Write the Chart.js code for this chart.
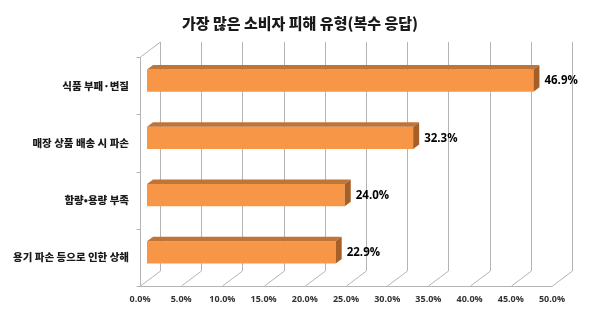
<!DOCTYPE html>
<html>
<head>
<meta charset="utf-8">
<script src="https://cdn.jsdelivr.net/npm/chart.js@4"></script>
<style>
  html, body { margin: 0; padding: 0; background: #fff; }
</style>
</head>
<body>
<canvas id="myChart" width="600" height="311"></canvas>
<script>
const categories = ['식품 부패·변질', '매장 상품 배송 시 파손', '함량•용량 부족', '용기 파손 등으로 인한 상해'];
const values = [46.9, 32.3, 24.0, 22.9];
const tickLabels = ['0.0%', '5.0%', '10.0%', '15.0%', '20.0%', '25.0%', '30.0%', '35.0%', '40.0%', '45.0%', '50.0%'];
const titleText = '가장 많은 소비자 피해 유형(복수 응답)';

// 3d look: front plane / back plane offsets from the bar plane
const front = { x: -7, y: 5 };
const back = { x: 13, y: -10 };
const barDepth = { x: 6, y: -4.5 };
const gridColor = '#b4b4b4';

const box3d = {
  id: 'box3d',
  beforeDatasetsDraw(chart) {
    const c = chart.ctx;
    const xs = chart.scales.x;
    const a = chart.chartArea;
    c.save();
    c.strokeStyle = gridColor;
    c.lineWidth = 1;
    c.beginPath();
    xs.ticks.forEach(t => {
      const px = Math.round(xs.getPixelForValue(t.value)) + 0.5;
      // back wall line
      c.moveTo(px + back.x, a.top + back.y);
      c.lineTo(px + back.x, a.bottom + back.y);
      // floor line
      c.moveTo(px + front.x, a.bottom + front.y);
      c.lineTo(px + back.x, a.bottom + back.y);
    });
    const l = Math.round(a.left) + 0.5;
    // front floor edge
    c.moveTo(l + front.x, a.bottom + front.y + 0.5);
    c.lineTo(Math.round(a.right) + 0.5 + front.x, a.bottom + front.y + 0.5);
    // left wall
    c.moveTo(l + front.x, a.top + front.y);
    c.lineTo(l + front.x, a.bottom + front.y);
    c.moveTo(l + front.x, a.top + front.y);
    c.lineTo(l + back.x, a.top + back.y);
    // category ticks
    for (let i = 0; i <= categories.length; i++) {
      const py = Math.round(a.top + (a.bottom - a.top) * i / categories.length + front.y) + 0.5;
      c.moveTo(l + front.x - 4, py);
      c.lineTo(l + front.x, py);
    }
    c.stroke();
    c.restore();
  },
  afterDatasetsDraw(chart) {
    const c = chart.ctx;
    const meta = chart.getDatasetMeta(0);
    c.save();
    meta.data.forEach((bar, i) => {
      const h = bar.height;
      const top = bar.y - h / 2;
      const bot = bar.y + h / 2;
      // top face
      c.fillStyle = '#c07538';
      c.beginPath();
      c.moveTo(bar.base, top);
      c.lineTo(bar.x, top);
      c.lineTo(bar.x + barDepth.x, top + barDepth.y);
      c.lineTo(bar.base + barDepth.x, top + barDepth.y);
      c.closePath();
      c.fill();
      // right face
      c.fillStyle = '#a65f27';
      c.beginPath();
      c.moveTo(bar.x, top);
      c.lineTo(bar.x + barDepth.x, top + barDepth.y);
      c.lineTo(bar.x + barDepth.x, bot + barDepth.y);
      c.lineTo(bar.x, bot);
      c.closePath();
      c.fill();
      // value label
      c.fillStyle = '#000';
      c.font = 'bold 11.5px "Open Sans"';
      c.textAlign = 'left';
      c.textBaseline = 'middle';
      c.fillText(values[i].toFixed(1) + '%', bar.x + barDepth.x + 5, bar.y + 0.5);
    });
    c.restore();
  }
};

new Chart(document.getElementById('myChart'), {
  type: 'bar',
  data: {
    labels: categories,
    datasets: [{
      data: values,
      backgroundColor: '#f79646',
      borderWidth: 0,
      categoryPercentage: 1,
      barPercentage: 0.385
    }]
  },
  options: {
    indexAxis: 'y',
    responsive: false,
    animation: false,
    layout: { padding: 0 },
    plugins: {
      legend: { display: false },
      tooltip: { enabled: false },
      title: {
        display: true,
        text: titleText,
        color: '#1a1a1a',
        font: { family: '"Noto Sans CJK KR"', size: 15, weight: 900 },
        padding: { top: 14, bottom: 20 }
      }
    },
    scales: {
      x: {
        min: 0,
        max: 50,
        grid: { display: false },
        border: { display: false },
        afterFit(scale) { scale.height = 30; },
        ticks: {
          stepSize: 5,
          padding: 5,
          labelOffset: -7,
          maxRotation: 0,
          color: '#333',
          font: { family: '"Open Sans"', size: 9, weight: 'bold' },
          callback: (v, i) => tickLabels[i]
        }
      },
      y: {
        grid: { display: false },
        border: { display: false },
        afterFit(scale) { scale.width = 147; },
        ticks: {
          padding: 10,
          labelOffset: 5,
          color: '#1a1a1a',
          font: { family: '"Noto Sans CJK KR"', size: 10.5, weight: 900 }
        }
      },
      // empty right axis, only keeps room for the value labels
      yRight: {
        position: 'right',
        grid: { display: false },
        border: { display: false },
        ticks: { display: false },
        afterFit(scale) { scale.width = 41; }
      }
    }
  },
  plugins: [box3d]
});
</script>
</body>
</html>
